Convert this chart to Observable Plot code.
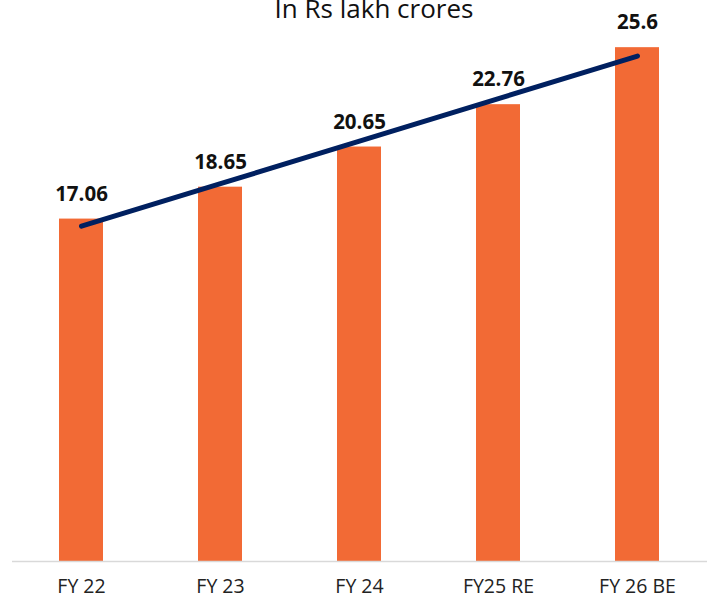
<!DOCTYPE html>
<html>
<head>
<meta charset="utf-8">
<script src="https://cdn.jsdelivr.net/npm/d3@7"></script>
<script src="https://cdn.jsdelivr.net/npm/@observablehq/plot@0.6"></script>
<style>
  html, body { margin: 0; padding: 0; background: #fff; }
  #wrap { position: relative; width: 716px; height: 605px; overflow: hidden; }
  #title { position: absolute; left: 0; width: 748px; text-align: center; top: -7px;
           font-family: "Open Sans", sans-serif; font-size: 26px; line-height: 30px; color: #111; white-space: nowrap; }
  #chart { position: absolute; left: 0; top: 0; }
</style>
</head>
<body>
<div id="wrap">
  <div id="chart"></div>
  <div id="title">In Rs lakh crores</div>
</div>
<script>
const years = ["FY 22", "FY 23", "FY 24", "FY25 RE", "FY 26 BE"];
const values = [17.06, 18.65, 20.65, 22.76, 25.6];
const labels = ["17.06", "18.65", "20.65", "22.76", "25.6"];

const data = years.map((y, i) => ({year: y, value: values[i], label: labels[i], idx: i + 1}));

// linear trendline (least squares) computed from the data
const mx = d3.mean(data, d => d.idx);
const my = d3.mean(data, d => d.value);
const slope = d3.sum(data, d => (d.idx - mx) * (d.value - my)) / d3.sum(data, d => (d.idx - mx) ** 2);
const trend = data.map(d => ({year: d.year, value: my + slope * (d.idx - mx)}));

const chart = Plot.plot({
  width: 716,
  height: 605,
  marginLeft: 12,
  marginRight: 9,
  marginTop: 0,
  marginBottom: 44,
  style: {fontFamily: "'Open Sans', sans-serif", background: "transparent"},
  x: {domain: years, paddingInner: 0.68, paddingOuter: 0.34, label: null},
  y: {domain: [0, 27.95], axis: null},
  marks: [
    Plot.barY(data, {x: "year", y: "value", fill: "#F26A35"}),
    Plot.ruleY([0], {stroke: "#d9d9d9", strokeWidth: 1.5}),
    Plot.line(trend, {x: "year", y: "value", stroke: "#002060", strokeWidth: 5, strokeLinecap: "round"}),
    Plot.text(data, {x: "year", y: "value", text: "label", dy: -25, lineAnchor: "middle",
      fontSize: 20.5, fontWeight: "bold", fill: "#111"}),
    Plot.axisX({tickSize: 0, tickPadding: 18, fontSize: 19.5, fill: "#222", label: null})
  ]
});
document.getElementById("chart").appendChild(chart);
</script>
</body>
</html>
